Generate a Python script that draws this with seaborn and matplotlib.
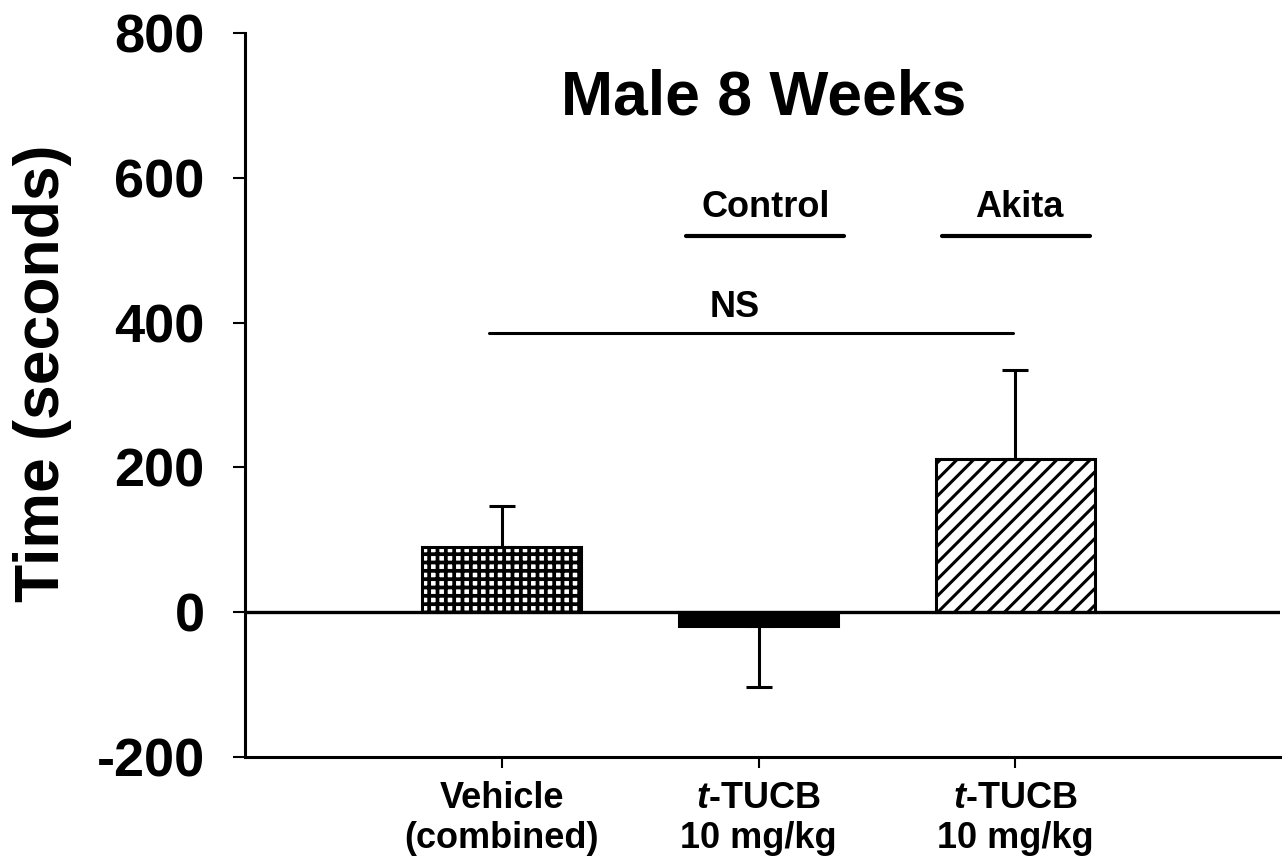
import numpy as np
import pandas as pd
import matplotlib
matplotlib.use("Agg")
import matplotlib.pyplot as plt
import seaborn as sns

# values
groups = ["Vehicle", "Control", "Akita"]
tick_labels = ["Vehicle\n(combined)", "$t$-TUCB\n10 mg/kg", "$t$-TUCB\n10 mg/kg"]
mean_time = [90, -19, 212]
sem_time = [56, 84, 122]
bar_colors = ["white", "black", "white"]
bar_hatches = ["++", "", "//"]

sns.set_style("ticks")
plt.rcParams["font.family"] = ["Liberation Sans", "DejaVu Sans"]
plt.rcParams["font.weight"] = "bold"
plt.rcParams["mathtext.fontset"] = "custom"
plt.rcParams["mathtext.it"] = "Liberation Sans:italic:bold"
plt.rcParams["mathtext.rm"] = "Liberation Sans:bold"
plt.rcParams["axes.unicode_minus"] = False
for key in ["text.color", "axes.labelcolor", "xtick.color", "ytick.color", "axes.edgecolor"]:
    plt.rcParams[key] = "black"
plt.rcParams["hatch.linewidth"] = 2.2
plt.rcParams["hatch.color"] = "black"

df = pd.DataFrame({"group": groups, "time": mean_time})

fig = plt.figure(figsize=(12.86, 8.6), dpi=100)
ax = fig.add_axes([0.1905, 0.1198, 0.8048, 0.8418])

sns.barplot(data=df, x="group", y="time", hue="group", order=groups,
            palette=bar_colors, width=0.62, legend=False, ax=ax,
            edgecolor="black", linewidth=2.2)
for patch, h in zip(ax.patches, bar_hatches):
    patch.set_hatch(h)
    patch.set_edgecolor("black")
    if h == "++" and hasattr(patch, "set_hatch_linewidth"):
        patch.set_hatch_linewidth(2.7)

# one-sided error bars, away from zero
means = np.array(mean_time)
errs = np.array(sem_time)
upper = np.where(means > 0, errs, 0)
lower = np.where(means < 0, errs, 0)
ax.errorbar(np.arange(len(groups)), means, yerr=[lower, upper], fmt="none",
            ecolor="black", elinewidth=2.2, capsize=9.5, capthick=2.2, zorder=1)

ax.axhline(0, color="black", lw=2.4, zorder=3)

# annotations
ax.text(1.02, 687, "Male 8 Weeks", ha="center", va="baseline",
        fontsize=45, fontweight="bold")
ax.plot([0.718, 1.332], [520, 520], color="black", lw=3)
ax.text(1.029, 546, "Control", ha="center", va="baseline", fontsize=26, fontweight="bold")
ax.plot([1.713, 2.291], [520, 520], color="black", lw=3)
ax.text(2.016, 546, "Akita", ha="center", va="baseline", fontsize=26, fontweight="bold")
ax.plot([-0.05, 1.992], [386, 386], color="black", lw=2.2)
ax.text(0.905, 408, "NS", ha="center", va="baseline", fontsize=26, fontweight="bold")

ax.set_xlim(-1.0, 3.03)
ax.set_ylim(-200, 800)
ax.set_yticks([-200, 0, 200, 400, 600, 800])
ax.set_xticks(range(len(groups)))
ax.set_xticklabels(tick_labels, fontsize=26, fontweight="bold", linespacing=1.2)
ax.tick_params(axis="y", labelsize=39, length=9, width=1.5, pad=20)
ax.tick_params(axis="x", length=8, width=1.5, pad=9)
for lab in ax.get_yticklabels():
    lab.set_fontweight("bold")

ax.set_xlabel("")
ax.set_ylabel("Time (seconds)", fontsize=45, fontweight="bold")
ax.yaxis.set_label_coords(-0.167, 0.53)

sns.despine(ax=ax)
for side in ["left", "bottom"]:
    ax.spines[side].set_linewidth(2.2)
    ax.spines[side].set_color("black")

fig.savefig("out.png", dpi=100)
